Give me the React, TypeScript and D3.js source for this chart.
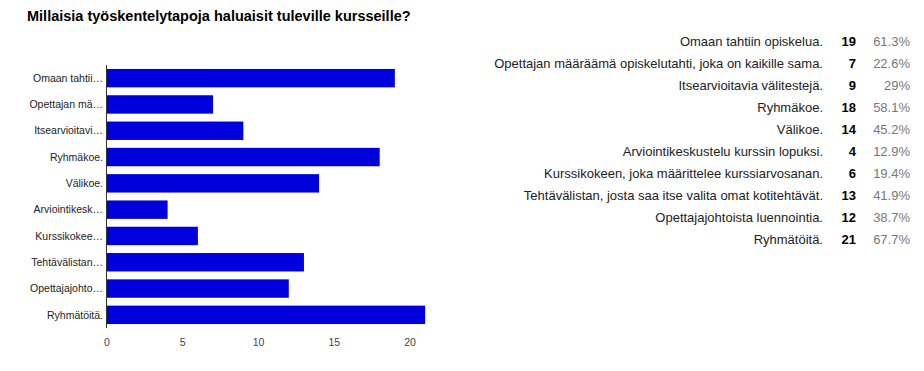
import React from 'react';
import * as d3 from 'd3';

const title = 'Millaisia työskentelytapoja haluaisit tuleville kursseille?';

const shortLabels = [
  'Omaan tahtii…',
  'Opettajan mä…',
  'Itsearvioitavi…',
  'Ryhmäkoe.',
  'Välikoe.',
  'Arviointikesk…',
  'Kurssikokee…',
  'Tehtävälistan…',
  'Opettajajohto…',
  'Ryhmätöitä.',
];

const fullLabels = [
  'Omaan tahtiin opiskelua.',
  'Opettajan määräämä opiskelutahti, joka on kaikille sama.',
  'Itsearvioitavia välitestejä.',
  'Ryhmäkoe.',
  'Välikoe.',
  'Arviointikeskustelu kurssin lopuksi.',
  'Kurssikokeen, joka määrittelee kurssiarvosanan.',
  'Tehtävälistan, josta saa itse valita omat kotitehtävät.',
  'Opettajajohtoista luennointia.',
  'Ryhmätöitä.',
];

const counts = [19, 7, 9, 18, 14, 4, 6, 13, 12, 21];
const percents = ['61.3%', '22.6%', '29%', '58.1%', '45.2%', '12.9%', '19.4%', '41.9%', '38.7%', '67.7%'];
const xTicks = [0, 5, 10, 15, 20];

const font = '"Liberation Sans", Arial, sans-serif';

const App: React.FC = () => {
  const width = 924;
  const height = 371;

  // bar chart area
  const x = d3.scaleLinear().domain([0, 20]).range([107, 410]);
  const y = d3
    .scaleBand<number>()
    .domain(d3.range(counts.length))
    .range([65, 328])
    .paddingInner(0.3)
    .paddingOuter(0.15);

  const rowY = (i: number) => 41 + i * 22;

  return (
    <svg
      width={width}
      height={height}
      style={{ position: 'absolute', left: 0, top: 0, background: '#fff' }}
      fontFamily={font}
    >
      <text x={27} y={21} fontSize={14.5} fontWeight="bold" fill="#000">
        {title}
      </text>

      {counts.map((c, i) => (
        <rect
          key={i}
          x={x(0)}
          y={y(i)}
          width={x(c) - x(0)}
          height={y.bandwidth()}
          fill="#0000DC"
        />
      ))}

      {shortLabels.map((l, i) => (
        <text
          key={i}
          x={103}
          y={(y(i) ?? 0) + y.bandwidth() / 2}
          dy="0.35em"
          textAnchor="end"
          fontSize={10.5}
          fill="#222"
        >
          {l}
        </text>
      ))}

      <line x1={x(0) - 0.5} x2={x(0) - 0.5} y1={65} y2={328} stroke="#333" strokeWidth={1} />

      {xTicks.map((t) => (
        <text
          key={t}
          x={x(t)}
          y={342}
          dy="0.35em"
          textAnchor="middle"
          fontSize={10.5}
          fill="#444"
        >
          {t}
        </text>
      ))}

      {fullLabels.map((l, i) => (
        <g key={i}>
          <text x={823} y={rowY(i)} dy="0.35em" textAnchor="end" fontSize={13} fill="#222">
            {l}
          </text>
          <text
            x={856}
            y={rowY(i)}
            dy="0.35em"
            textAnchor="end"
            fontSize={13}
            fontWeight="bold"
            fill="#000"
          >
            {counts[i]}
          </text>
          <text x={910} y={rowY(i)} dy="0.35em" textAnchor="end" fontSize={13} fill="#777">
            {percents[i]}
          </text>
        </g>
      ))}
    </svg>
  );
};

export default App;
